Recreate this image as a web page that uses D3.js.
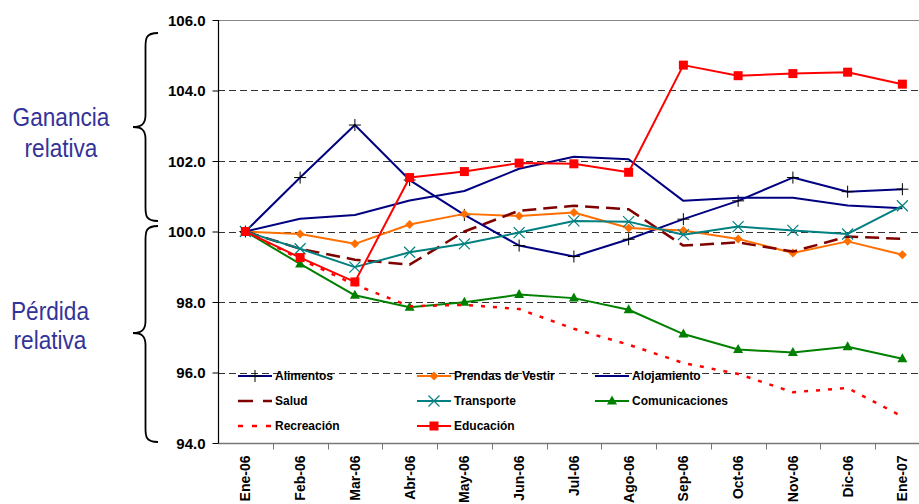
<!DOCTYPE html>
<html>
<head>
<meta charset="utf-8">
<script src="https://cdn.jsdelivr.net/npm/d3@7/dist/d3.min.js"></script>
<style>
  html, body { margin: 0; padding: 0; background: #fff; }
  svg { display: block; }
</style>
</head>
<body>
<div id="chart"></div>
<script>
const categories = ["Ene-06","Feb-06","Mar-06","Abr-06","May-06","Jun-06","Jul-06","Ago-06","Sep-06","Oct-06","Nov-06","Dic-06","Ene-07"];
const yTicks = [94, 96, 98, 100, 102, 104, 106];

const alimentos      = [100, 101.53, 103.02, 101.46, 100.47, 99.60, 99.29, 99.78, 100.35, 100.87, 101.53, 101.13, 101.20];
const prendas        = [100, 99.93, 99.65, 100.20, 100.50, 100.44, 100.54, 100.10, 100.03, 99.79, 99.39, 99.72, 99.34];
const alojamiento    = [100, 100.36, 100.47, 100.88, 101.15, 101.78, 102.12, 102.05, 100.87, 100.96, 100.96, 100.74, 100.66];
const salud          = [100, 99.51, 99.20, 99.06, 100.00, 100.59, 100.73, 100.63, 99.60, 99.69, 99.43, 99.86, 99.79];
const transporte     = [100, 99.51, 98.99, 99.41, 99.65, 99.97, 100.30, 100.28, 99.91, 100.14, 100.03, 99.93, 100.73];
const comunicaciones = [100, 99.08, 98.19, 97.85, 97.99, 98.21, 98.11, 97.78, 97.09, 96.65, 96.57, 96.73, 96.39];
const recreacion     = [100, 99.22, 98.49, 97.88, 97.92, 97.80, 97.24, 96.79, 96.27, 95.96, 95.44, 95.56, 94.75];
const educacion      = [100, 99.26, 98.57, 101.53, 101.70, 101.94, 101.92, 101.68, 104.72, 104.42, 104.48, 104.52, 104.18];

const seriesNames = ["Alimentos","Prendas de Vestir","Alojamiento","Salud","Transporte","Comunicaciones","Recreación","Educación"];
const seriesValues = [alimentos, prendas, alojamiento, salud, transporte, comunicaciones, recreacion, educacion];
const sideLabels = [["Ganancia","relativa"],["Pérdida","relativa"]];

const styles = {
  "Alimentos":        {color:"#000080", width:2,   dash:null,   marker:"plus"},
  "Prendas de Vestir":{color:"#FF6F00", width:2,   dash:null,   marker:"diamond"},
  "Alojamiento":      {color:"#000080", width:2,   dash:null,   marker:null},
  "Salud":            {color:"#800000", width:2.5, dash:"14,7", marker:null},
  "Transporte":       {color:"#008080", width:2,   dash:null,   marker:"x"},
  "Comunicaciones":   {color:"#008000", width:2,   dash:null,   marker:"triangle"},
  "Recreación":       {color:"#FF0000", width:2.5, dash:"4,8",  marker:null},
  "Educación":        {color:"#FF0000", width:2,   dash:null,   marker:"square"}
};
const drawOrder = ["Alimentos","Prendas de Vestir","Alojamiento","Salud","Transporte","Comunicaciones","Recreación","Educación"];

const W = 919, H = 504;
const plotLeft = 218, plotTop = 20, plotBottom = 443;
const band = 54.75;

const svg = d3.select("#chart").append("svg").attr("width", W).attr("height", H)
  .style("font-family", "'Liberation Sans', Arial, sans-serif");

const x = d3.scaleBand().domain(categories).range([plotLeft, plotLeft + band * categories.length]).paddingInner(0).paddingOuter(0);
const cx = c => x(c) + x.bandwidth() / 2;
const y = d3.scaleLinear().domain([94, 106]).range([plotBottom, plotTop]);

// gridlines
svg.append("g").selectAll("line").data(yTicks.filter(t => t > 94 && t < 106)).join("line")
  .attr("x1", plotLeft).attr("x2", W).attr("y1", d => Math.round(y(d)) + 0.5).attr("y2", d => Math.round(y(d)) + 0.5)
  .attr("stroke", "#333").attr("stroke-width", 1).attr("stroke-dasharray", "7,4");
// top border
svg.append("line").attr("x1", plotLeft).attr("x2", W).attr("y1", Math.round(y(106)) + 0.5).attr("y2", Math.round(y(106)) + 0.5)
  .attr("stroke", "#888").attr("stroke-width", 1);

// x axis
const xAxisG = svg.append("g").attr("transform", `translate(0,${Math.round(y(94)) + 0.5})`);
xAxisG.append("line").attr("x1", plotLeft).attr("x2", W).attr("stroke", "#777").attr("stroke-width", 1.5);
xAxisG.selectAll("line.tk").data(categories.slice(1)).join("line").attr("class", "tk")
  .attr("x1", d => Math.round(x(d)) + 0.5).attr("x2", d => Math.round(x(d)) + 0.5).attr("y1", 0).attr("y2", 6)
  .attr("stroke", "#777").attr("stroke-width", 1);
xAxisG.selectAll("text").data(categories).join("text")
  .attr("transform", d => `translate(${cx(d) + 5},12) rotate(-90)`)
  .attr("text-anchor", "end")
  .style("font-size", "14px").style("font-weight", "bold").attr("fill", "#000")
  .text(d => d);

// y axis
const yAxis = d3.axisLeft(y).tickValues(yTicks).tickFormat(d3.format(".1f")).tickSize(6).tickPadding(7);
const yAxisG = svg.append("g").attr("transform", `translate(${plotLeft + 0.5},0)`).call(yAxis);
yAxisG.select(".domain").attr("stroke", "#000").attr("stroke-width", 1.2).attr("d", `M0,${y(106)}V${y(94)}`);
yAxisG.selectAll(".tick line").attr("stroke", "#000");
yAxisG.selectAll(".tick text").style("font-size", "15px").style("font-weight", "bold")
  .style("font-family", "'Liberation Sans', Arial, sans-serif").attr("fill", "#000").attr("dy", "0.36em");

// marker function
function drawMarker(g, type, px, py, color) {
  if (type === "plus") {
    g.append("path").attr("d", `M${px-6},${py}H${px+6}M${px},${py-6}V${py+6}`).attr("stroke", "#000").attr("stroke-width", 1).attr("fill", "none");
  } else if (type === "diamond") {
    g.append("path").attr("d", `M${px},${py-4.5}L${px+4.5},${py}L${px},${py+4.5}L${px-4.5},${py}Z`).attr("fill", color);
  } else if (type === "x") {
    g.append("path").attr("d", `M${px-5.5},${py-5.5}L${px+5.5},${py+5.5}M${px-5.5},${py+5.5}L${px+5.5},${py-5.5}`).attr("stroke", color).attr("stroke-width", 1.2).attr("fill", "none");
  } else if (type === "triangle") {
    g.append("path").attr("d", `M${px},${py-5.5}L${px+5},${py+3.5}L${px-5},${py+3.5}Z`).attr("fill", color);
  } else if (type === "square") {
    g.append("rect").attr("x", px-4.5).attr("y", py-4.5).attr("width", 9).attr("height", 9).attr("fill", color);
  }
}

const line = d3.line().x((d, i) => cx(categories[i])).y(d => y(d));
const plotG = svg.append("g");
drawOrder.forEach(name => {
  const vals = seriesValues[seriesNames.indexOf(name)];
  const st = styles[name];
  const g = plotG.append("g");
  g.append("path").attr("d", line(vals)).attr("fill", "none").attr("stroke", st.color)
    .attr("stroke-width", st.width).attr("stroke-dasharray", st.dash).attr("stroke-linejoin", "round");
  if (st.marker) vals.forEach((v, i) => drawMarker(g, st.marker, cx(categories[i]), y(v), st.color));
});

// legend
const legCols = [238, 417, 595];
const legRows = [376, 401, 426];
const legendOrder = ["Alimentos","Prendas de Vestir","Alojamiento","Salud","Transporte","Comunicaciones","Recreación","Educación"];
const legG = svg.append("g");
legendOrder.forEach((name, k) => {
  const st = styles[name];
  const lx = legCols[k % 3], ly = legRows[Math.floor(k / 3)];
  const g = legG.append("g");
  g.append("line").attr("x1", lx).attr("x2", lx + 34).attr("y1", ly).attr("y2", ly)
    .attr("stroke", st.color).attr("stroke-width", st.width).attr("stroke-dasharray", name === "Salud" ? "15,10" : (name === "Recreación" ? "5,9" : st.dash));
  if (st.marker) drawMarker(g, st.marker, lx + 17, ly, st.color);
  g.append("text").attr("x", lx + 37).attr("y", ly).attr("dy", "0.36em")
    .style("font-size", "12px").style("font-weight", "bold").attr("fill", "#000").text(name);
});

// braces
function brace(yTop, yBot, yTip) {
  const xe = 158, xv = 145.5, xt = 133;
  return `M${xe},${yTop} C${xv},${yTop} ${xv},${yTop+6} ${xv},${yTop+14} L${xv},${yTip-12} C${xv},${yTip-3} ${xv-4},${yTip} ${xt},${yTip}` +
         ` C${xv-4},${yTip} ${xv},${yTip+3} ${xv},${yTip+12} L${xv},${yBot-14} C${xv},${yBot-6} ${xv},${yBot} ${xe},${yBot}`;
}
svg.append("path").attr("d", brace(33, 221, 127)).attr("fill", "none").attr("stroke", "#000").attr("stroke-width", 1.8);
svg.append("path").attr("d", brace(226, 442, 333)).attr("fill", "none").attr("stroke", "#000").attr("stroke-width", 1.8);

// side labels (condensed via horizontal scale)
const sideG = svg.append("g").style("font-family", "'Liberation Sans', Arial, sans-serif")
  .style("font-size", "26px").attr("fill", "#333399").attr("text-anchor", "middle");
const sidePos = [[61, 126], [61, 157], [50, 320], [50, 349]];
[sideLabels[0][0], sideLabels[0][1], sideLabels[1][0], sideLabels[1][1]].forEach((t, i) => {
  sideG.append("text").attr("transform", `translate(${sidePos[i][0]},${sidePos[i][1]}) scale(0.87,1)`).text(t);
});
</script>
</body>
</html>
